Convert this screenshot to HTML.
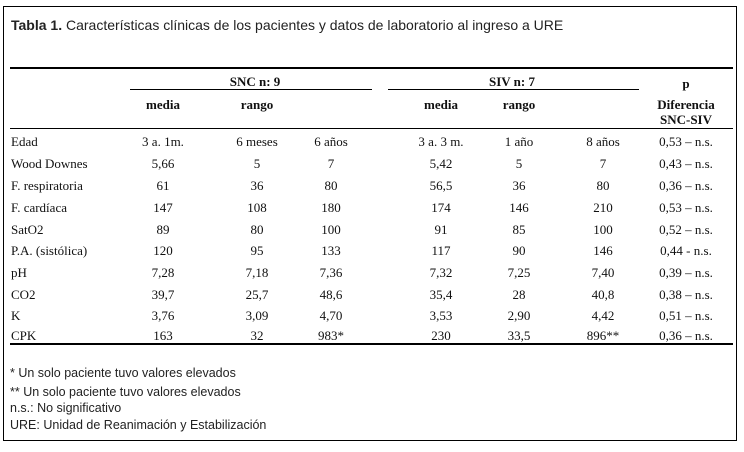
<!DOCTYPE html>
<html><head><meta charset="utf-8"><style>
body{margin:0;width:744px;height:452px;background:#fff;position:relative;overflow:hidden;}
.b{position:absolute;border:1px solid #000;left:3px;top:6px;width:732px;height:433px;}
.t{position:absolute;font-family:"Liberation Serif",serif;font-size:13px;color:#111;white-space:nowrap;line-height:14px;}
.c{transform:translateX(-50%);text-align:center;}
.s{position:absolute;font-family:"Liberation Sans",sans-serif;font-size:12.5px;color:#222;white-space:nowrap;line-height:14px;}
.ln{position:absolute;background:#000;}
</style></head><body>
<div class="b"></div>
<div class="s" style="left:11px;top:17px;font-size:14px;line-height:17px;"><b>Tabla 1.</b> Características clínicas de los pacientes y datos de laboratorio al ingreso a URE</div>
<div class="ln" style="left:10px;top:67px;width:723px;height:2px"></div>
<div class="ln" style="left:130px;top:89px;width:242px;height:1px"></div>
<div class="ln" style="left:388px;top:89px;width:251px;height:1px"></div>
<div class="ln" style="left:10px;top:128px;width:723px;height:1px"></div>
<div class="ln" style="left:10px;top:343px;width:723px;height:2px"></div>
<div class="t c" style="left:255px;top:75px;font-weight:bold">SNC n: 9</div>
<div class="t c" style="left:512px;top:75px;font-weight:bold">SIV n: 7</div>
<div class="t c" style="left:686px;top:77px;font-weight:bold">p</div>
<div class="t c" style="left:163px;top:98px;font-weight:bold">media</div>
<div class="t c" style="left:257px;top:98px;font-weight:bold">rango</div>
<div class="t c" style="left:441px;top:98px;font-weight:bold">media</div>
<div class="t c" style="left:519px;top:98px;font-weight:bold">rango</div>
<div class="t c" style="left:686px;top:98px;font-weight:bold">Diferencia</div>
<div class="t c" style="left:686px;top:113px;font-weight:bold">SNC-SIV</div>
<div id="rows"></div>
<script>
var d=[["Edad","3 a. 1m.","6 meses","6 años","3 a. 3 m.","1 año","8 años","0,53 – n.s."],
["Wood Downes","5,66","5","7","5,42","5","7","0,43 – n.s."],
["F. respiratoria","61","36","80","56,5","36","80","0,36 – n.s."],
["F. cardíaca","147","108","180","174","146","210","0,53 – n.s."],
["SatO2","89","80","100","91","85","100","0,52 – n.s."],
["P.A. (sistólica)","120","95","133","117","90","146","0,44 - n.s."],
["pH","7,28","7,18","7,36","7,32","7,25","7,40","0,39 – n.s."],
["CO2","39,7","25,7","48,6","35,4","28","40,8","0,38 – n.s."],
["K","3,76","3,09","4,70","3,53","2,90","4,42","0,51 – n.s."],
["CPK","163","32","983*","230","33,5","896**","0,36 – n.s."]];
var ys=[135,157,179,201,223,244,266,288,309,329],xs=[163,257,331,441,519,603,686],h="";
d.forEach(function(r,i){h+='<div class="t" style="left:11px;top:'+ys[i]+'px">'+r[0]+'</div>';
for(var j=1;j<8;j++)h+='<div class="t c" style="left:'+xs[j-1]+'px;top:'+ys[i]+'px">'+r[j]+'</div>';});
document.getElementById("rows").innerHTML=h;
</script>
<div class="s" style="left:10px;top:366px">* Un solo paciente tuvo valores elevados</div>
<div class="s" style="left:10px;top:385px">** Un solo paciente tuvo valores elevados</div>
<div class="s" style="left:10px;top:401px">n.s.: No significativo</div>
<div class="s" style="left:10px;top:418px">URE: Unidad de Reanimación y Estabilización</div>
</body></html>
